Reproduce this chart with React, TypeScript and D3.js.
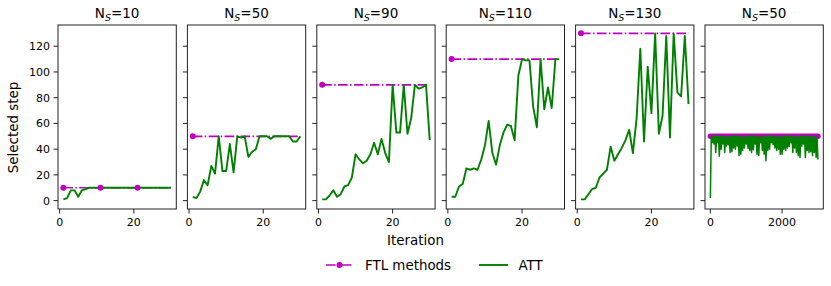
import React from 'react';
import * as d3 from 'd3';

// panel titles (value of N_S) and FTL levels
const nsValues = [10, 50, 90, 110, 130, 50];
const ftlLevels = [10, 50, 90, 110, 130, 50];
const ftlMarkerIters = [[1, 11, 21], [1], [1], [1], [1]];

// ATT selected step for iterations 1..30
const iters = d3.range(1, 31);
const att10 = [1, 2, 8, 8, 3, 8, 9, 10, 10, 10, 10, 10, 10, 10, 10, 10, 10, 10, 10, 10, 10, 10, 10, 10, 10, 10, 10, 10, 10, 10];
const att50 = [3, 2, 7, 16, 12, 27, 21, 50, 23, 23, 44, 22, 50, 49, 50, 34, 38, 40, 50, 50, 50, 48, 50, 50, 50, 50, 50, 46, 46, 50];
const att90 = [1, 1, 4, 8, 3, 5, 11, 12, 18, 36, 32, 29, 31, 36, 45, 36, 48, 37, 30, 90, 53, 53, 90, 52, 64, 90, 87, 88, 90, 47];
const att110 = [3, 3, 11, 13, 25, 24, 25, 24, 32, 43, 62, 37, 28, 43, 53, 59, 58, 47, 97, 110, 109, 109, 73, 57, 110, 71, 88, 72, 110, 110];
const att130 = [1, 1, 5, 9, 10, 18, 21, 24, 42, 31, 36, 41, 47, 55, 37, 64, 118, 46, 104, 68, 130, 52, 66, 128, 49, 130, 84, 81, 128, 75];

// long run (N_S=50), sampled every 25 iterations from 0 to 3000
const longStep = 25;
const attLong = [
  2, 50, 45, 50, 44, 50, 37.5, 50, 45, 50, 34.5, 50, 40, 50, 44, 50, 37.5, 50, 42.5, 50,
  43.5, 50, 37.5, 50, 38, 50, 41, 50, 40, 50, 42.5, 50, 35, 50, 36, 50, 39, 50, 41, 50,
  44, 50, 40.5, 50, 39, 50, 37.5, 50, 39.5, 50, 44, 50, 36, 50, 35, 50, 45, 50, 39, 50,
  36, 50, 31, 50, 39, 50, 40, 50, 45, 50, 43.5, 50, 41, 50, 39, 50, 40, 50, 36, 50,
  36, 50, 40, 50, 39, 50, 41, 50, 42, 50, 45, 50, 37.5, 50, 41, 50, 37.5, 50, 35, 50,
  33.5, 50, 42.5, 50, 44, 50, 33.5, 50, 39, 50, 37.5, 50, 38, 50, 35, 50, 37.5, 50, 33.5, 50,
  32,
];

const yTicks = [0, 20, 40, 60, 80, 100, 120];

const MAGENTA = '#bf00bf';
const GREEN = '#008000';
const FONT = 'DejaVu Sans, sans-serif';

const left0 = 58;
const step = 129.4;
const pw = 118.3;
const top = 25;
const ph = 184;

export default function App() {
  const y = d3.scaleLinear().domain([-6.5, 136.5]).range([top + ph, top]);

  const panels = [
    { x: iters, v: att10, ticks: [0, 20], dom: [-0.45, 31.45] },
    { x: iters, v: att50, ticks: [0, 20], dom: [-0.45, 31.45] },
    { x: iters, v: att90, ticks: [0, 20], dom: [-0.45, 31.45] },
    { x: iters, v: att110, ticks: [0, 20], dom: [-0.45, 31.45] },
    { x: iters, v: att130, ticks: [0, 20], dom: [-0.45, 31.45] },
    { x: attLong.map((_, i) => i * longStep), v: attLong, ticks: [0, 2000], dom: [-150, 3150] },
  ];

  return (
    <svg width={831} height={286} style={{ position: 'absolute', left: 0, top: 0, background: '#fff' }} fontFamily={FONT}>
      {panels.map((p, i) => {
        const x0 = left0 + i * step;
        const x = d3.scaleLinear().domain(p.dom).range([x0, x0 + pw]);
        const line = d3.line<number>().x((_, j) => x(p.x[j])).y((d) => y(d));
        const xs = p.x;
        const fy = y(ftlLevels[i]);
        const isLong = i === 5;
        return (
          <g key={i}>
            {/* FTL line */}
            {isLong ? (
              <line x1={x(xs[0])} x2={x(xs[xs.length - 1])} y1={fy} y2={fy} stroke={MAGENTA} strokeWidth={5.5} strokeLinecap="round" />
            ) : (
              <line x1={x(1)} x2={x(30)} y1={fy} y2={fy} stroke={MAGENTA} strokeWidth={1.7} strokeDasharray="9.6,2.4,1.5,2.4" />
            )}
            {/* ATT */}
            <path d={line(p.v) || ''} fill="none" stroke={GREEN} strokeWidth={isLong ? 1.5 : 1.9} strokeLinejoin="round" />
            {/* FTL markers */}
            {!isLong && ftlMarkerIters[i].map((m) => (
              <circle key={m} cx={x(m)} cy={fy} r={3} fill={MAGENTA} />
            ))}
            {/* frame */}
            <rect x={x0} y={top} width={pw} height={ph} fill="none" stroke="#222" strokeWidth={1} />
            {/* y ticks */}
            {yTicks.map((t) => (
              <g key={t}>
                <line x1={x0 - 4.5} x2={x0} y1={y(t)} y2={y(t)} stroke="#222" strokeWidth={1} />
                {i === 0 && (
                  <text x={x0 - 8} y={y(t)} dy="0.36em" textAnchor="end" fontSize={11} fill="#000">{t}</text>
                )}
              </g>
            ))}
            {/* x ticks */}
            {p.ticks.map((t) => (
              <g key={t}>
                <line x1={x(t)} x2={x(t)} y1={top + ph} y2={top + ph + 4.5} stroke="#222" strokeWidth={1} />
                <text x={x(t)} y={226} textAnchor="middle" fontSize={11} fill="#000">{t}</text>
              </g>
            ))}
            {/* title */}
            <text x={x0 + pw / 2} y={18} textAnchor="middle" fontSize={13.5} fill="#000">
              N<tspan fontSize={9.5} dy={2.5} fontStyle="italic">S</tspan>
              <tspan dy={-2.5}>={nsValues[i]}</tspan>
            </text>
          </g>
        );
      })}
      <text transform="translate(18.3,127.5) rotate(-90)" textAnchor="middle" fontSize={13.4} fill="#000">Selected step</text>
      <text x={415.5} y={245} textAnchor="middle" fontSize={13.4} fill="#000">Iteration</text>
      {/* legend */}
      <g>
        <line x1={326} x2={353} y1={265} y2={265} stroke={MAGENTA} strokeWidth={1.7} strokeDasharray="9.6,2.4,1.5,2.4" />
        <circle cx={339.5} cy={265} r={3} fill={MAGENTA} />
        <text x={365} y={269.5} fontSize={13.4} fill="#000">FTL methods</text>
        <line x1={479} x2={508} y1={265} y2={265} stroke={GREEN} strokeWidth={1.9} />
        <text x={518.5} y={269.5} fontSize={13.4} fill="#000">ATT</text>
      </g>
    </svg>
  );
}
